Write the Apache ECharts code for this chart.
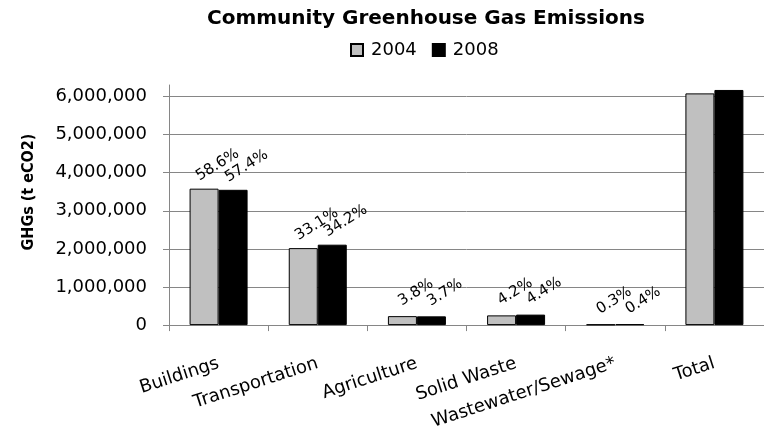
<!DOCTYPE html>
<html>
<head>
<meta charset="utf-8">
<title>Community Greenhouse Gas Emissions</title>
<script src="https://cdn.jsdelivr.net/npm/echarts@6/dist/echarts.min.js"></script>
<style>
  html, body { margin: 0; padding: 0; background: #fff; }
  #chart { width: 764px; height: 432px; }
</style>
</head>
<body>
<div id="chart"></div>
<script>
// categories and values (t eCO2)
const sectors = ['Buildings', 'Transportation', 'Agriculture', 'Solid Waste', 'Wastewater/Sewage*', 'Total'];
const years = ['2004', '2008'];
const ghg2004 = [3580000, 2020000, 235000, 255000, 18000, 6080000];
const ghg2008 = [3550000, 2110000, 230000, 275000, 25000, 6170000];
// share of the total, printed above each bar
const share2004 = ['58.6%', '33.1%', '3.8%', '4.2%', '0.3%', ''];
const share2008 = ['57.4%', '34.2%', '3.7%', '4.4%', '0.4%', ''];
const yTicks = [0, 1000000, 2000000, 3000000, 4000000, 5000000, 6000000];

const font = 'DejaVu Sans';
const grey = '#868686';

const chart = echarts.init(document.getElementById('chart'));

// offset is turned together with the label, so it is given in the label's own frame
const shareLabel = (shares) => ({
  show: true,
  position: 'top',
  distance: 0,
  rotate: 32,
  align: 'center',
  verticalAlign: 'middle',
  offset: [24, -13],
  color: '#000',
  fontFamily: font,
  fontSize: 15,
  formatter: (p) => shares[p.dataIndex],
});

const fmt = (v) => yTicks.indexOf(v) < 0 ? '' : v.toLocaleString('en-US');

chart.setOption({
  animation: false,
  backgroundColor: '#fff',
  title: {
    text: 'Community Greenhouse Gas Emissions',
    left: 421,
    textAlign: 'center',
    top: 4,
    textStyle: { fontFamily: font, fontWeight: 'bold', fontSize: 20, color: '#000' },
  },
  legend: {
    data: years,
    left: 345,
    top: 36,
    itemWidth: 12,
    itemHeight: 12,
    itemGap: 15,
    icon: 'rect',
    textStyle: { fontFamily: font, fontSize: 18, color: '#000', padding: [0, 0, 0, 3] },
  },
  grid: { left: 169, right: -11, top: 85, bottom: 105, containLabel: false },
  xAxis: {
    type: 'category',
    data: sectors,
    axisLine: { lineStyle: { color: grey, width: 1 } },
    axisTick: { show: true, length: 6, lineStyle: { color: grey } },
    axisLabel: {
      rotate: 18,
      margin: 38,
      interval: 0,
      color: '#000',
      fontFamily: font,
      fontSize: 18,
    },
  },
  yAxis: {
    type: 'value',
    min: 0,
    max: 6300000,
    interval: 1000000,
    name: 'GHGs (t eCO2)',
    nameLocation: 'middle',
    nameGap: 132,
    nameRotate: 90,
    nameTextStyle: {
      fontFamily: 'DejaVu Sans Condensed',
      fontWeight: 'bold',
      fontSize: 16,
      color: '#000',
      padding: [0, 0, 0, 26],
    },
    axisLine: { show: true, lineStyle: { color: grey, width: 1 } },
    axisTick: { show: true, length: 6, inside: false, lineStyle: { color: grey } },
    axisLabel: {
      margin: 22,
      color: '#000',
      fontFamily: font,
      fontSize: 18,
      formatter: fmt,
      showMaxLabel: false,
    },
    splitLine: {
      show: true,
      lineStyle: {
        // last line sits at the axis top and is not drawn
        color: [grey, grey, grey, grey, grey, grey, grey, 'rgba(0,0,0,0)'],
        width: 1,
      },
    },
  },
  series: [
    {
      name: years[0],
      type: 'bar',
      data: ghg2004,
      barWidth: 29,
      barGap: '0%',
      itemStyle: { color: '#c0c0c0', borderColor: '#000', borderWidth: 1 },
      label: shareLabel(share2004),
    },
    {
      name: years[1],
      type: 'bar',
      data: ghg2008,
      barWidth: 29,
      barGap: '0%',
      itemStyle: { color: '#000', borderColor: '#000', borderWidth: 1 },
      label: shareLabel(share2008),
    },
  ],
});
</script>
</body>
</html>
